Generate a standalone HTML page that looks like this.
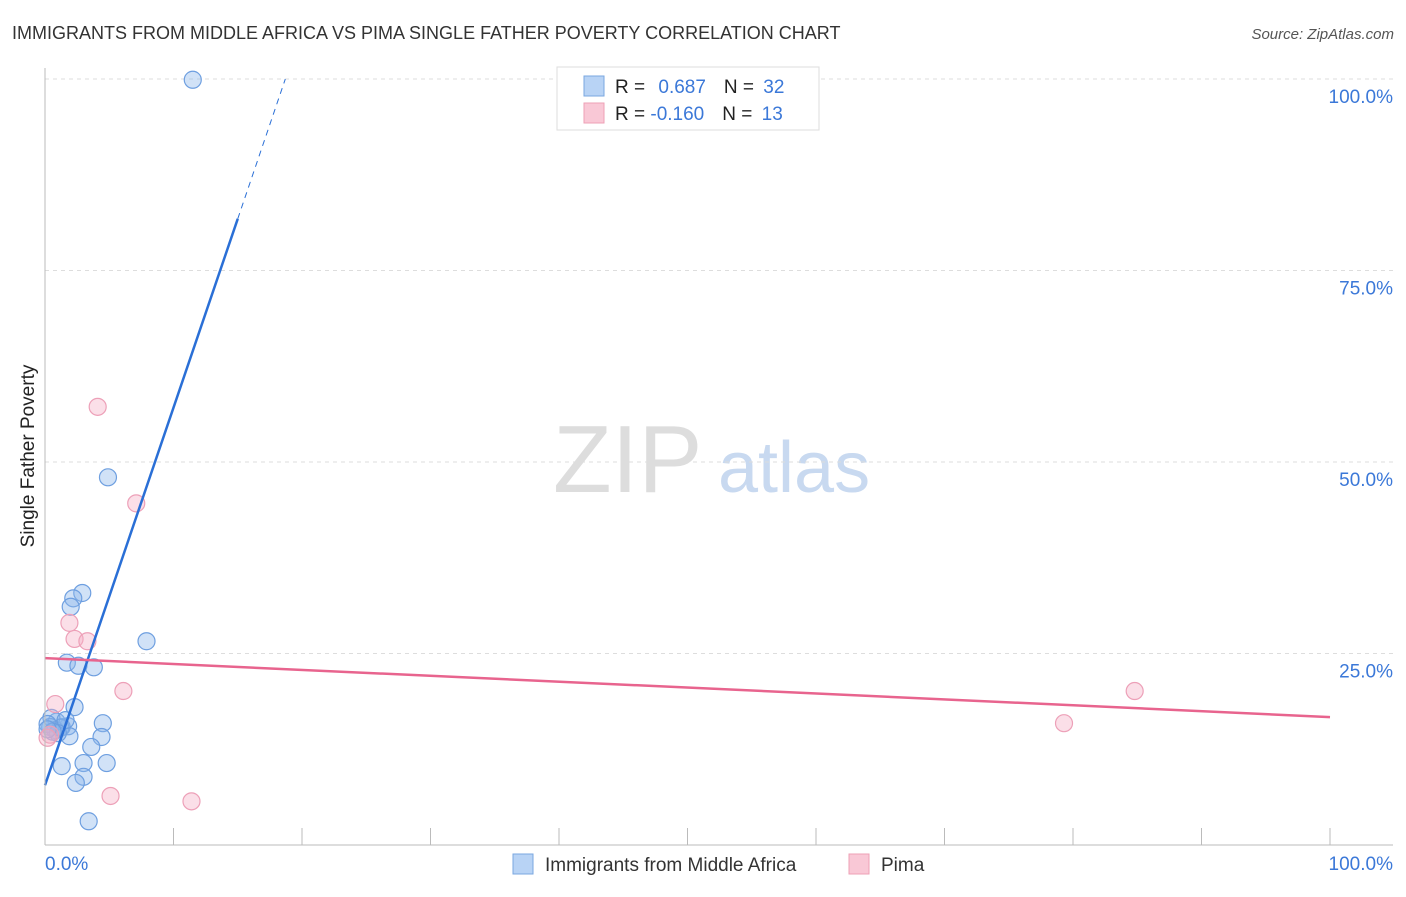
<!DOCTYPE html>
<html><head><meta charset="utf-8"><style>
body{margin:0;background:#fff;font-family:"Liberation Sans",sans-serif;}
svg text{font-family:"Liberation Sans",sans-serif;}
</style></head><body>
<svg id="c" width="1406" height="892" xmlns="http://www.w3.org/2000/svg">
<text x="12" y="39" font-size="18" fill="#333">IMMIGRANTS FROM MIDDLE AFRICA VS PIMA SINGLE FATHER POVERTY CORRELATION CHART</text>
<text x="1394" y="39" font-size="15" fill="#555" font-style="italic" text-anchor="end">Source: ZipAtlas.com</text>
<text x="0" y="0" font-size="19" fill="#222" transform="translate(34,456) rotate(-90)" text-anchor="middle">Single Father Poverty</text>
<g><text x="553" y="492" font-size="96" fill="#ddd" font-family="Liberation Serif,serif">ZIP</text><text x="718" y="492" font-size="72" fill="#c8d9f0">atlas</text></g>
<g id="grid"></g><g id="ticks"></g><g id="pts"></g><g id="lines"></g>
<line x1="45" y1="68" x2="45" y2="845" stroke="#bbb"/>
<line x1="45" y1="845" x2="1393" y2="845" stroke="#bbb"/>
<text x="45" y="870" font-size="19" fill="#3b78d8">0.0%</text>
<text x="1393" y="870" font-size="19" fill="#3b78d8" text-anchor="end">100.0%</text>
<g>
<rect x="557" y="67" width="262" height="63" fill="#fff" stroke="#ddd"/>
<rect x="584" y="76" width="20" height="20" fill="#b8d3f5" stroke="#7aa7e0"/>
<rect x="584" y="103" width="20" height="20" fill="#f9c8d6" stroke="#eea0b6"/>
<text x="615" y="93" font-size="19" fill="#222">R = <tspan fill="#3b78d8" dx="8">0.687</tspan><tspan dx="18" fill="#222">N = </tspan><tspan fill="#3b78d8" dx="4">32</tspan></text>
<text x="615" y="120" font-size="19" fill="#222">R = <tspan fill="#3b78d8" dx="0">-0.160</tspan><tspan dx="18" fill="#222">N = </tspan><tspan fill="#3b78d8" dx="4">13</tspan></text>
</g>
<g>
<rect x="513" y="854" width="20" height="20" fill="#b8d3f5" stroke="#7aa7e0"/>
<text x="545" y="871" font-size="19" fill="#333">Immigrants from Middle Africa</text>
<rect x="849" y="854" width="20" height="20" fill="#f9c8d6" stroke="#eea0b6"/>
<text x="881" y="871" font-size="19" fill="#333">Pima</text>
</g>
</svg>
<script>
const blueX=[11.5,4.9,2.9,2.2,2.0,7.9,1.7,2.6,3.8,2.3,4.5,1.8,1.3,0.9,0.5,0.4,0.8,1.2,1.9,4.4,3.6,3.0,1.3,4.8,3.0,2.4,3.4,0.2,1.6,1.0,0.6,0.2];
const blueY=[99.9,48.0,32.9,32.2,31.1,26.6,23.8,23.4,23.2,18.0,15.9,15.5,15.4,16.1,16.6,15.4,15.0,15.3,14.2,14.1,12.8,10.7,10.3,10.7,8.9,8.1,3.1,15.8,16.3,14.6,14.8,15.1];
const pinkX=[4.1,7.1,1.9,2.3,3.3,6.1,84.8,79.3,0.8,5.1,11.4,0.4,0.2];
const pinkY=[57.2,44.6,29.0,26.9,26.6,20.1,20.1,15.9,18.4,6.4,5.7,14.4,14.0];
const yTicks=[25,50,75,100];
const xTicks=[0,10,20,30,40,50,60,70,80,90,100];
const blueFit=[7.8,4.93];
const pinkFit=[24.4,-0.077];
const NS="http://www.w3.org/2000/svg";
const sx=v=>45+v*12.85, sy=v=>845-v*7.66;
function mk(p,t,a){const e=document.createElementNS(NS,t);for(const k in a)e.setAttribute(k,a[k]);document.getElementById(p).appendChild(e);return e;}
yTicks.forEach(t=>{
 const l=mk('grid','line',{x1:45,x2:1393,y1:sy(t),y2:sy(t),stroke:'#ddd','stroke-dasharray':'4,4'});
 
 
 const tx=mk('grid','text',{x:1393,y:sy(t)+24,'font-size':19,fill:'#3b78d8','text-anchor':'end'});
 tx.textContent=t.toFixed(1)+'%';
 
 
});
xTicks.forEach(t=>{
 const l=mk('ticks','line',{x1:sx(t),x2:sx(t),y1:828,y2:845,stroke:'#bbb'});
 
 
});
blueX.forEach((x,i)=>{
 const c=mk('pts','circle',{cx:sx(x),cy:sy(blueY[i]),r:8.5,fill:'rgba(140,182,236,0.4)',stroke:'#6e9fe0','stroke-width':1.2});
 
 
});
pinkX.forEach((x,i)=>{
 const c=mk('pts','circle',{cx:sx(x),cy:sy(pinkY[i]),r:8.5,fill:'rgba(246,176,198,0.4)',stroke:'#eda0b8','stroke-width':1.2});
 
 
});
const bx1=15.0,bx2=18.7;
let l1=mk('lines','line',{x1:sx(0),y1:sy(blueFit[0]),x2:sx(bx1),y2:sy(blueFit[0]+blueFit[1]*bx1),stroke:'#2a6fd6','stroke-width':2.5});


let l2=mk('lines','line',{x1:sx(bx1),y1:sy(blueFit[0]+blueFit[1]*bx1),x2:sx(bx2),y2:sy(blueFit[0]+blueFit[1]*bx2),stroke:'#2a6fd6','stroke-width':1,'stroke-dasharray':'6,5'});


let l3=mk('lines','line',{x1:sx(0),y1:sy(pinkFit[0]),x2:sx(100),y2:sy(pinkFit[0]+pinkFit[1]*100),stroke:'#e8648e','stroke-width':2.5});


</script>
</body></html>
